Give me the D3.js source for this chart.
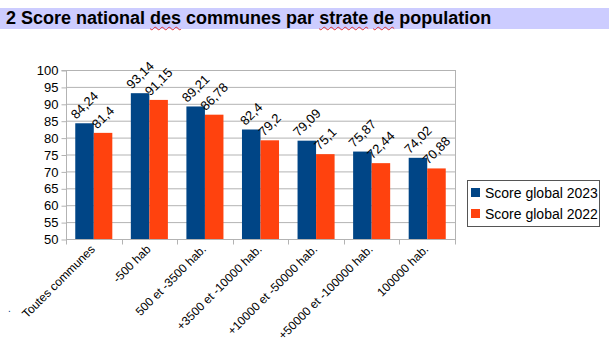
<!DOCTYPE html>
<html><head><meta charset="utf-8">
<script src="https://cdn.jsdelivr.net/npm/d3@7"></script>
<style>
html,body{margin:0;padding:0;background:#fff;width:609px;height:340px;overflow:hidden;font-family:"Liberation Sans",Arial,sans-serif;}
#title{position:absolute;left:0;top:8px;width:609px;height:21px;background:#ccccff;font-weight:bold;font-size:18px;line-height:21px;padding-left:6px;box-sizing:border-box;color:#000;white-space:nowrap;}
.sp{text-decoration:underline wavy #e03030;text-decoration-thickness:1px;text-underline-offset:2px;}
svg{position:absolute;left:0;top:0;}
</style></head><body>
<div id="title">2 Score national <span class="sp">des</span> communes par <span class="sp">strate</span> <span class="sp">de</span> population</div>
<svg id="chart" width="609" height="340"></svg>
<script>
const categories = ["Toutes communes","-500 hab","500 et -3500 hab.","+3500 et -10000 hab.","+10000 et -50000 hab.","+50000 et -100000 hab.","100000 hab."];
const series2023 = [84.24,93.14,89.21,82.4,79.09,75.87,74.02];
const series2022 = [81.4,91.15,86.78,79.2,75.1,72.44,70.88];
const seriesNames = ["Score global 2023","Score global 2022"];
const yTicks = [50,55,60,65,70,75,80,85,90,95,100];
const colors = ["#004586","#ff420e"];

const svg = d3.select("#chart");
const pL = 66, pR = 455, pT = 70, pB = 239;
const x = d3.scaleBand().domain(categories).range([pL,pR]).padding(0);
const y = d3.scaleLinear().domain([50,100]).range([pB,pT]);
const grid = "#b3b3b3";

// gridlines
svg.append("g").selectAll("line").data(yTicks).join("line")
  .attr("x1",pL).attr("x2",pR).attr("y1",d=>y(d)+0.5).attr("y2",d=>y(d)+0.5)
  .attr("stroke",grid).attr("stroke-width",1);
svg.append("line").attr("x1",pR+0.5).attr("x2",pR+0.5).attr("y1",pT).attr("y2",pB).attr("stroke",grid);

// y axis
const yAxis = d3.axisLeft(y).tickValues(yTicks).tickSize(5).tickPadding(3).tickFormat(d3.format("d"));
const gy = svg.append("g").attr("transform",`translate(${pL+0.5},0.5)`).call(yAxis);
gy.select(".domain").attr("stroke",grid).attr("d",`M-5,${pT}H0V${pB+1}`);
gy.selectAll(".tick line").attr("stroke",grid);
gy.selectAll("text").attr("font-family","Liberation Sans, Arial, sans-serif").attr("font-size",13).attr("fill","#000");

// x axis
const xAxis = d3.axisBottom(x).tickSize(0).tickFormat("");
const gx = svg.append("g").attr("transform",`translate(0,${pB+0.5})`).call(xAxis);
gx.select(".domain").attr("stroke",grid).attr("d",`M${pL},0H${pR+1}`);
const bounds = categories.map((c,i)=>pL + i*x.bandwidth()).concat([pR]);
gx.selectAll("line.bt").data(bounds).join("line").attr("class","bt")
  .attr("x1",d=>Math.round(d)+0.5).attr("x2",d=>Math.round(d)+0.5).attr("y1",0).attr("y2",5).attr("stroke",grid);

// category labels
svg.append("g").selectAll("text").data(categories).join("text")
  .attr("transform",d=>`translate(${x(d)+x.bandwidth()/2+2},${pB+11}) rotate(-45)`)
  .attr("text-anchor","end").attr("font-size",12).attr("fill","#000")
  .attr("font-family","Liberation Sans, Arial, sans-serif")
  .text(d=>d);
svg.append("text").attr("x",8).attr("y",312).attr("font-size",10).attr("fill","#004586").text(".");

// bars
const bw = x.bandwidth()/3;
const data = [];
categories.forEach((c,i)=>{
  data.push({c, s:0, v:series2023[i]});
  data.push({c, s:1, v:series2022[i]});
});
svg.append("g").selectAll("rect").data(data).join("rect")
  .attr("x",d=>x(d.c)+bw/2 + d.s*bw).attr("width",bw)
  .attr("y",d=>y(d.v)).attr("height",d=>pB-y(d.v))
  .attr("fill",d=>colors[d.s]);

// data labels
const fmt = v => String(v).replace(".",",");
const lab = svg.append("g").selectAll("text").data(data).join("text")
  .attr("font-size",13).attr("fill","#000").attr("font-family","Liberation Sans, Arial, sans-serif")
  .attr("text-anchor","middle").attr("dominant-baseline","central")
  .text(d=>fmt(d.v));
lab.each(function(d){
  const L = this.getComputedTextLength();
  const h = 13;
  const cx = x(d.c)+bw/2 + d.s*bw + bw/2;
  const cy = y(d.v) - 2 - (L+h)/(2*Math.SQRT2);
  d3.select(this).attr("transform",`translate(${cx},${cy}) rotate(-45)`);
});

// legend
const lg = svg.append("g");
lg.append("rect").attr("x",467.5).attr("y",180.5).attr("width",132).attr("height",46)
  .attr("fill","#fff").attr("stroke","#555").attr("stroke-width",1);
seriesNames.forEach((n,i)=>{
  lg.append("rect").attr("x",471).attr("y",188+i*21).attr("width",9).attr("height",9).attr("fill",colors[i]);
  lg.append("text").attr("x",485).attr("y",193+i*21).attr("dominant-baseline","central")
    .attr("font-size",14).attr("font-family","Liberation Sans, Arial, sans-serif").attr("fill","#000").text(n);
});
</script>
</body></html>
